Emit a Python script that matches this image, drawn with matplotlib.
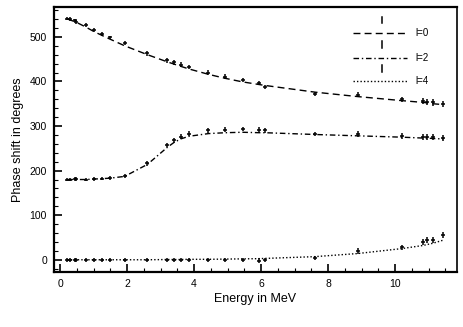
import numpy as np
import matplotlib.pyplot as plt
from matplotlib.ticker import MultipleLocator

plt.rcParams['font.family'] = ['Liberation Sans', 'DejaVu Sans']

# energies of the measured points (MeV)
energy = [0.22, 0.30, 0.44, 0.48, 0.77, 1.01, 1.26, 1.49, 1.93, 2.61, 3.20, 3.40, 3.60,
          3.85, 4.43, 4.93, 5.45, 5.95, 6.12, 7.61, 8.89, 10.20, 10.83, 10.95, 11.13, 11.44]

# fitted phase shifts (degrees)
fit_l0 = [540, 538, 534, 533, 522, 512, 503, 495, 480, 460, 444, 439, 434,
          428, 416, 407, 399, 393, 391, 376, 366, 357, 353, 352, 350, 348]
fit_l2 = [180, 180, 180, 180, 180, 181, 182, 183, 187, 214, 252, 263, 271,
          277, 283, 285, 286, 285, 285, 281, 278, 275, 273, 273, 272, 271]
fit_l4 = [0, 0, 0, 0, 0, 0, 0, 0, 0, 0, 0.5, 0.5, 0.5,
          1, 1, 1.5, 2, 2.5, 3, 7, 14, 25, 32, 34, 37, 44]

# measured phase shifts and errors
data_l0 = [541, 540, 537, 533, 526, 515, 507, 499, 486, 463, 447, 443, 438,
           433, 420, 411, 403, 397, 387, 372, 370, 360, 356, 354, 353, 350]
data_l2 = [180, 180, 181, 181, 180, 181, 182, 184, 188, 216, 258, 268, 276,
           283, 290, 292, 293, 292, 290, 282, 282, 278, 275, 276, 275, 273]
data_l4 = [0, 0, 0, 0, 0, 0, 0, 0, 0, 0, 0, 0, 0,
           0, 0, 0, 0, -2, 0, 4, 20, 28, 40, 45, 45, 56]
err = [4, 4, 4, 4, 4, 4, 4, 4, 4, 5, 5, 5, 5,
       5, 5, 5, 5, 5, 5, 5, 6, 6, 7, 7, 7, 7]
xerr = 0.06

labels = ['l=0', 'l=2', 'l=4']
styles = [(0, (5, 3)), (0, (4, 2, 1, 2)), (0, (1, 1.5))]

fig = plt.figure(figsize=(4.63, 3.27), dpi=100)
ax = fig.add_axes([0.1166, 0.168, 0.8704, 0.8106])

for fit, dat, ls in zip([fit_l0, fit_l2, fit_l4], [data_l0, data_l2, data_l4], styles):
    ax.plot(energy, fit, color='black', lw=1.0, linestyle=ls)
    ax.errorbar(energy, dat, yerr=err, xerr=xerr, fmt='none', ecolor='black',
                elinewidth=1.1, capsize=0)

# legend drawn by hand: error bar sign above each line sample
rows = [0.903, 0.809, 0.721]
for y, ls, lab in zip(rows, styles, labels):
    ax.plot([0.742, 0.876], [y, y], color='black', lw=1.0, linestyle=ls,
            transform=ax.transAxes)
    ax.plot([0.814, 0.814], [y + 0.035, y + 0.061], color='black', lw=1.1,
            transform=ax.transAxes)
    ax.text(0.896, y, lab, transform=ax.transAxes, fontsize=7, va='center', ha='left')

ax.set_xlim(-0.18, 11.85)
ax.set_ylim(-27.6, 567)
ax.xaxis.set_major_locator(MultipleLocator(2))
ax.xaxis.set_minor_locator(MultipleLocator(0.5))
ax.yaxis.set_major_locator(MultipleLocator(100))
ax.yaxis.set_minor_locator(MultipleLocator(20))
ax.tick_params(which='both', direction='in', top=False, right=False, labelsize=7.5, pad=5)
ax.tick_params(which='major', length=6, width=1.2)
ax.tick_params(which='minor', length=3, width=0.8)

for side in ['top', 'bottom', 'left']:
    ax.spines[side].set_linewidth(1.6)
ax.spines['right'].set_linewidth(1.2)

ax.set_xlabel('Energy in MeV', fontsize=9, labelpad=3)
ax.set_ylabel('Phase shift in degrees', fontsize=9, labelpad=4)

plt.savefig('out.png', dpi=100)
